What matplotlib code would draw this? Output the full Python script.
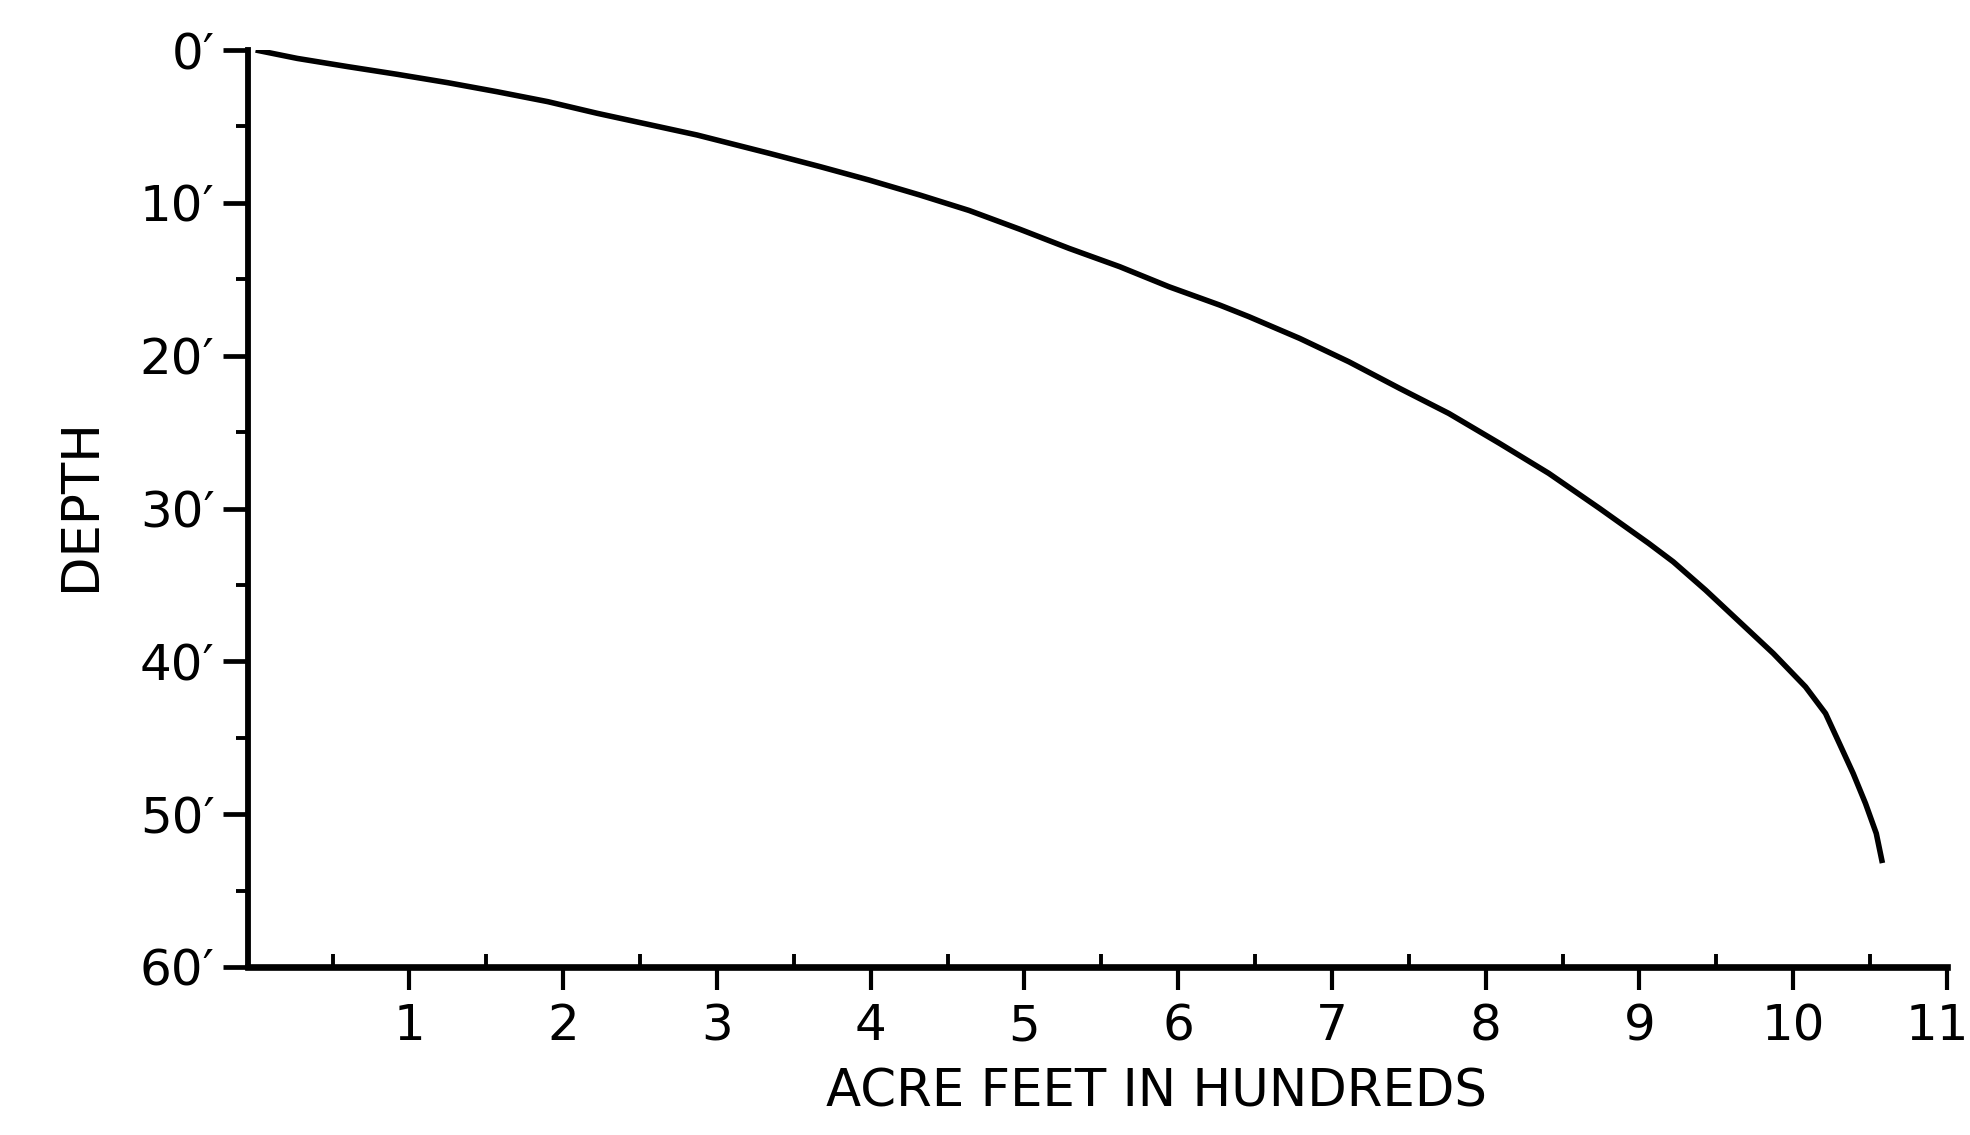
import matplotlib
matplotlib.use("Agg")
import matplotlib.pyplot as plt
from matplotlib.ticker import FixedLocator
from matplotlib.transforms import ScaledTranslation

# ---- data ----
acre_feet_hundreds = [0, 0.27, 0.60, 0.92, 1.25, 1.57, 1.90, 2.22, 2.55, 2.87,
                      3.34, 3.67, 3.99, 4.32, 4.64, 4.97, 5.29, 5.62, 5.94, 6.27,
                      6.46, 6.79, 7.11, 7.44, 7.76, 8.09, 8.41, 8.74, 9.06, 9.22,
                      9.43, 9.65, 9.87, 10.08, 10.21, 10.30, 10.39, 10.47, 10.54, 10.58]
depth_ft = [0, 0.55, 1.09, 1.59, 2.14, 2.73, 3.38, 4.14, 4.86, 5.56,
            6.76, 7.63, 8.51, 9.49, 10.5, 11.73, 12.98, 14.18, 15.49, 16.69,
            17.45, 18.87, 20.4, 22.14, 23.78, 25.74, 27.7, 29.99, 32.28, 33.49,
            35.34, 37.41, 39.48, 41.67, 43.41, 45.37, 47.34, 49.3, 51.26, 53.2]

x_ticks = [1, 2, 3, 4, 5, 6, 7, 8, 9, 10, 11]
x_tick_labels = ["1", "2", "3", "4", "5", "6", "7", "8", "9", "10", "11"]
x_minor_ticks = [0.5, 1.5, 2.5, 3.5, 4.5, 5.5, 6.5, 7.5, 8.5, 9.5, 10.5, 11]
y_ticks = [0, 10, 20, 30, 40, 50, 60]
y_tick_labels = ["0\u2032", "10\u2032", "20\u2032", "30\u2032", "40\u2032", "50\u2032", "60\u2032"]
y_minor_ticks = [5, 15, 25, 35, 45, 55]

x_label = "ACRE FEET IN HUNDREDS"
y_label = "DEPTH"

# ---- figure ----
plt.rcParams['font.family'] = ['DejaVu Sans']
fig = plt.figure(figsize=(19.7, 11.35), dpi=100)
L, R, T, B = 248 / 1970, 1947 / 1970, 1 - 50 / 1135, 1 - 967 / 1135
ax = fig.add_axes([L, B, R - L, T - B])

ax.plot(acre_feet_hundreds, depth_ft, color="black", lw=4.0,
        solid_capstyle="butt", solid_joinstyle="round")

ax.set_xlim(-0.05, 11)
ax.set_ylim(60, 0)

for s in ("top", "right"):
    ax.spines[s].set_visible(False)
ax.spines["left"].set_linewidth(4.2)
ax.spines["bottom"].set_linewidth(4.8)

ax.xaxis.set_major_locator(FixedLocator(x_ticks))
ax.set_xticklabels(x_tick_labels)
ax.xaxis.set_minor_locator(FixedLocator(x_minor_ticks))
ax.yaxis.set_major_locator(FixedLocator(y_ticks))
ax.set_yticklabels(y_tick_labels)
ax.yaxis.set_minor_locator(FixedLocator(y_minor_ticks))

ax.tick_params(axis="x", which="major", direction="out", length=16.5, width=3.0,
               pad=9, labelsize=36)
ax.tick_params(axis="x", which="minor", direction="in", length=9.5, width=2.8)
ax.tick_params(axis="y", which="major", direction="out", length=18, width=3.4,
               pad=6, labelsize=36)
ax.tick_params(axis="y", which="minor", direction="out", length=9, width=2.8)

# keep the last x label ("11") inside the figure edge
last = ax.get_xticklabels()[-1]
last.set_ha("right")
last.set_transform(last.get_transform() + ScaledTranslation(0.22, 0, fig.dpi_scale_trans))

ax.set_xlabel(x_label, fontsize=37)
ax.xaxis.set_label_coords(0.535, -0.137)
ax.xaxis.label.set_va("center")
ax.set_ylabel(y_label, fontsize=37)
ax.yaxis.set_label_coords(-0.098, 0.504)
ax.yaxis.label.set_va("center")

fig.savefig("out.png", dpi=100, facecolor="white")
